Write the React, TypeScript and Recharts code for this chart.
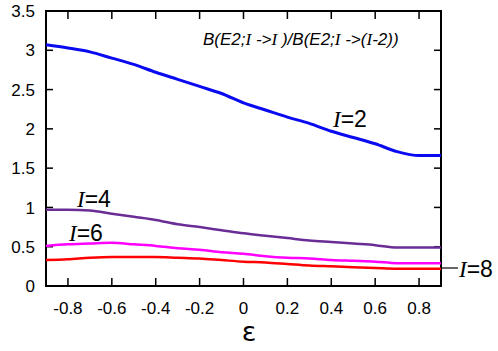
import { LineChart, Line, XAxis, YAxis, Customized } from 'recharts'

// deformation parameter epsilon
const eps = [-0.9, -0.8, -0.7, -0.6, -0.5, -0.4, -0.3, -0.2, -0.1, 0, 0.1, 0.2, 0.3, 0.4, 0.5, 0.6, 0.7, 0.8, 0.9]

// B(E2) ratios for each spin
const i2 = [3.07, 3.03, 2.98, 2.9, 2.82, 2.72, 2.63, 2.54, 2.45, 2.33, 2.24, 2.15, 2.07, 1.97, 1.89, 1.81, 1.71, 1.66, 1.66]
const i4 = [0.97, 0.97, 0.96, 0.92, 0.88, 0.84, 0.785, 0.75, 0.71, 0.67, 0.64, 0.61, 0.58, 0.56, 0.54, 0.52, 0.49, 0.49, 0.49]
const i6 = [0.51, 0.53, 0.54, 0.55, 0.53, 0.51, 0.48, 0.46, 0.43, 0.41, 0.38, 0.36, 0.35, 0.33, 0.32, 0.31, 0.29, 0.29, 0.29]
const i8 = [0.33, 0.34, 0.36, 0.37, 0.37, 0.37, 0.36, 0.35, 0.33, 0.31, 0.3, 0.28, 0.26, 0.25, 0.24, 0.23, 0.22, 0.22, 0.22]

const xTicks = [-0.8, -0.6, -0.4, -0.2, 0, 0.2, 0.4, 0.6, 0.8]
const yTicks = [0, 0.5, 1, 1.5, 2, 2.5, 3, 3.5]

const data = eps.map((e, k) => ({ eps: e, i2: i2[k], i4: i4[k], i6: i6[k], i8: i8[k] }))

// plot box (matches chart margins below)
const LEFT = 46
const TOP = 11
const PLOT_W = 395
const PLOT_H = 275
const X_MIN = -0.9
const X_MAX = 0.9
const Y_MAX = 3.5

const INK = '#000'
const FONT = 'Liberation Sans, Arial, sans-serif'
const SERIF = 'Liberation Serif, Times New Roman, serif'

const renderXTick = (props: any) => {
    const { x, y, payload } = props
    const v = payload.value
    return (
        <text key={'xt' + v} x={x} y={y + 28} textAnchor="middle" fontSize={17} fontFamily={FONT} fill="black">
            {v === 0 ? '0' : v.toFixed(1)}
        </text>
    )
}

const renderYTick = (props: any) => {
    const { x, y, payload } = props
    return (
        <text key={'yt' + payload.value} x={x - 11} y={y} dy="0.36em" textAnchor="end" fontSize={17} fontFamily={FONT} fill="black">
            {String(payload.value)}
        </text>
    )
}

const SpinLabel = ({ x, y, n }: { x: number, y: number, n: number }) => (
    <text x={x} y={y} fontSize={23} fill="black">
        <tspan fontFamily={SERIF} fontStyle="italic">I</tspan>
        <tspan fontFamily={FONT}>={n}</tspan>
    </text>
)

// frame with inward ticks on all four sides (filled bars), plus the text annotations
const Frame = () => {
    const bottom = TOP + PLOT_H
    const right = LEFT + PLOT_W
    const tx = (v: number) => LEFT + ((v - X_MIN) / (X_MAX - X_MIN)) * PLOT_W
    const ty = (v: number) => bottom - (v / Y_MAX) * PLOT_H
    return (
        <g>
            <rect x={LEFT - 1} y={TOP - 1} width={PLOT_W + 2} height={2} fill={INK} />
            <rect x={LEFT - 1} y={bottom - 1} width={PLOT_W + 2} height={2} fill={INK} />
            <rect x={LEFT - 1} y={TOP - 1} width={2} height={PLOT_H + 2} fill={INK} />
            <rect x={right - 1} y={TOP - 1} width={2} height={PLOT_H + 2} fill={INK} />
            {xTicks.map(t => (
                <g key={'fx' + t}>
                    <rect x={tx(t) - 0.75} y={bottom - 8} width={1.5} height={8} fill={INK} />
                    <rect x={tx(t) - 0.75} y={TOP} width={1.5} height={8} fill={INK} />
                </g>
            ))}
            {yTicks.map(t => (
                <g key={'fy' + t}>
                    <rect x={LEFT} y={ty(t) - 0.75} width={7} height={1.5} fill={INK} />
                    <rect x={right - 7} y={ty(t) - 0.75} width={7} height={1.5} fill={INK} />
                </g>
            ))}
            <text x={203} y={45} fontSize={17} fontFamily={FONT} fontStyle="italic" fill="black">
                B(E2;<tspan fontFamily={SERIF}>I</tspan> -&gt;<tspan fontFamily={SERIF}>I</tspan> )/B(E2;<tspan fontFamily={SERIF}>I</tspan> -&gt;(<tspan fontFamily={SERIF}>I</tspan>-2))
            </text>
            <SpinLabel x={333} y={127} n={2} />
            <SpinLabel x={77} y={207} n={4} />
            <SpinLabel x={69} y={241} n={6} />
            <line x1={right} x2={458} y1={268} y2={268} stroke={INK} strokeWidth={1.2} />
            <SpinLabel x={459} y={277} n={8} />
            <text x={249} y={341} textAnchor="middle" fontSize={27} fontFamily="DejaVu Sans" fill="black">ε</text>
        </g>
    )
}

const App = () => {
    return (
        <div style={{ position: 'absolute', left: 0, top: 0 }}>
            <LineChart width={498} height={351} data={data} margin={{ top: TOP, right: 57, bottom: 0, left: 0 }}>
                <XAxis dataKey="eps" type="number" domain={[X_MIN, X_MAX]} ticks={xTicks} interval={0}
                    height={65} axisLine={false} tickLine={false} tickSize={0} tickMargin={0} tick={renderXTick} />
                <YAxis type="number" domain={[0, Y_MAX]} ticks={yTicks} interval={0}
                    width={LEFT} axisLine={false} tickLine={false} tickSize={0} tickMargin={0} tick={renderYTick} />
                <Line type="monotone" dataKey="i2" stroke="#0a0af0" strokeWidth={3} dot={false} isAnimationActive={false} />
                <Line type="monotone" dataKey="i4" stroke="#6a2d96" strokeWidth={2.5} dot={false} isAnimationActive={false} />
                <Line type="monotone" dataKey="i6" stroke="#ff00ff" strokeWidth={2.5} dot={false} isAnimationActive={false} />
                <Line type="monotone" dataKey="i8" stroke="#ff0000" strokeWidth={2.5} dot={false} isAnimationActive={false} />
                <Customized component={Frame} />
            </LineChart>
        </div>
    )
}

export default App
